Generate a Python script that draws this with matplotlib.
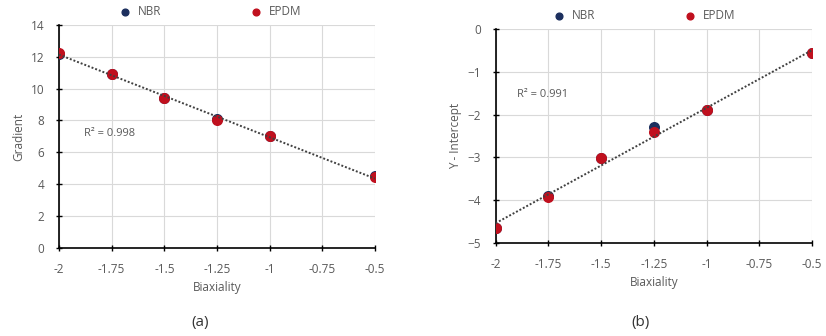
import numpy as np
import matplotlib.pyplot as plt

plt.rcParams['font.family'] = ['Open Sans', 'DejaVu Sans']

biax = [-2, -1.75, -1.5, -1.25, -1, -0.5]
grad_nbr = [12.2, 10.9, 9.4, 8.1, 7.0, 4.5]
grad_epdm = [12.25, 10.9, 9.4, 8.05, 7.0, 4.45]
icpt_nbr = [-4.65, -3.9, -3.02, -2.3, -1.9, -0.57]
icpt_epdm = [-4.65, -3.92, -3.02, -2.4, -1.9, -0.57]

NBR_COL = '#1c2f5e'
EPDM_COL = '#c0101e'
TXT = '#595959'

fig = plt.figure(figsize=(8.26, 3.36), dpi=100)
ax1 = fig.add_axes([0.0714, 0.262, 0.3826, 0.664])
ax2 = fig.add_axes([0.600, 0.277, 0.383, 0.637])


def style(ax, ylim, yticks, ylabel):
    ax.set_xlim(-2, -0.5)
    ax.set_ylim(*ylim)
    ax.set_xticks([-2, -1.75, -1.5, -1.25, -1, -0.75, -0.5])
    ax.set_xticklabels(['-2', '-1.75', '-1.5', '-1.25', '-1', '-0.75', '-0.5'])
    ax.set_yticks(yticks)
    ax.grid(True, color='#d9d9d9', lw=0.8)
    ax.set_axisbelow(True)
    for s in ['top', 'right']:
        ax.spines[s].set_visible(False)
    for s in ['left', 'bottom']:
        ax.spines[s].set_color('black')
        ax.spines[s].set_linewidth(1.2)
    ax.tick_params(axis='both', direction='inout', length=5, width=1,
                   labelsize=8.5, labelcolor=TXT, color='black')
    ax.tick_params(axis='x', pad=8)
    ax.tick_params(axis='y', pad=8)
    ax.set_xlabel('Biaxiality', fontsize=8.5, color=TXT, labelpad=4)
    ax.set_ylabel(ylabel, fontsize=8.5, color=TXT, labelpad=4)


def series(ax, y_nbr, y_epdm, lx):
    ax.scatter(biax, y_nbr, s=48, color=NBR_COL, zorder=3, label='NBR')
    ax.scatter(biax, y_epdm, s=48, color=EPDM_COL, zorder=4, label='EPDM')
    k, b = np.polyfit(biax, y_epdm, 1)
    xs = np.array([biax[0], biax[-1]])
    ax.plot(xs, k * xs + b, ls=(0, (1, 1)), color='#404040', lw=1.4, zorder=5)
    ax.legend(loc='lower center', bbox_to_anchor=(lx, 1.01), ncol=2,
              frameon=False, fontsize=8.5, handletextpad=0.1,
              columnspacing=7, borderaxespad=0, markerscale=0.7,
              labelcolor=TXT)


style(ax1, (0, 14), range(0, 15, 2), 'Gradient')
series(ax1, grad_nbr, grad_epdm, 0.47)
ax1.text(-1.88, 7.0, 'R² = 0.998', fontsize=8, color=TXT)

style(ax2, (-5, 0), range(-5, 1), 'Y - Intercept')
series(ax2, icpt_nbr, icpt_epdm, 0.46)
ax2.text(-1.9, -1.6, 'R² = 0.991', fontsize=8, color=TXT)

fig.text(0.242, 0.03, '(a)', fontsize=11, color='#333333', ha='center')
fig.text(0.776, 0.03, '(b)', fontsize=11, color='#333333', ha='center')

fig.savefig('out.png', dpi=100)
